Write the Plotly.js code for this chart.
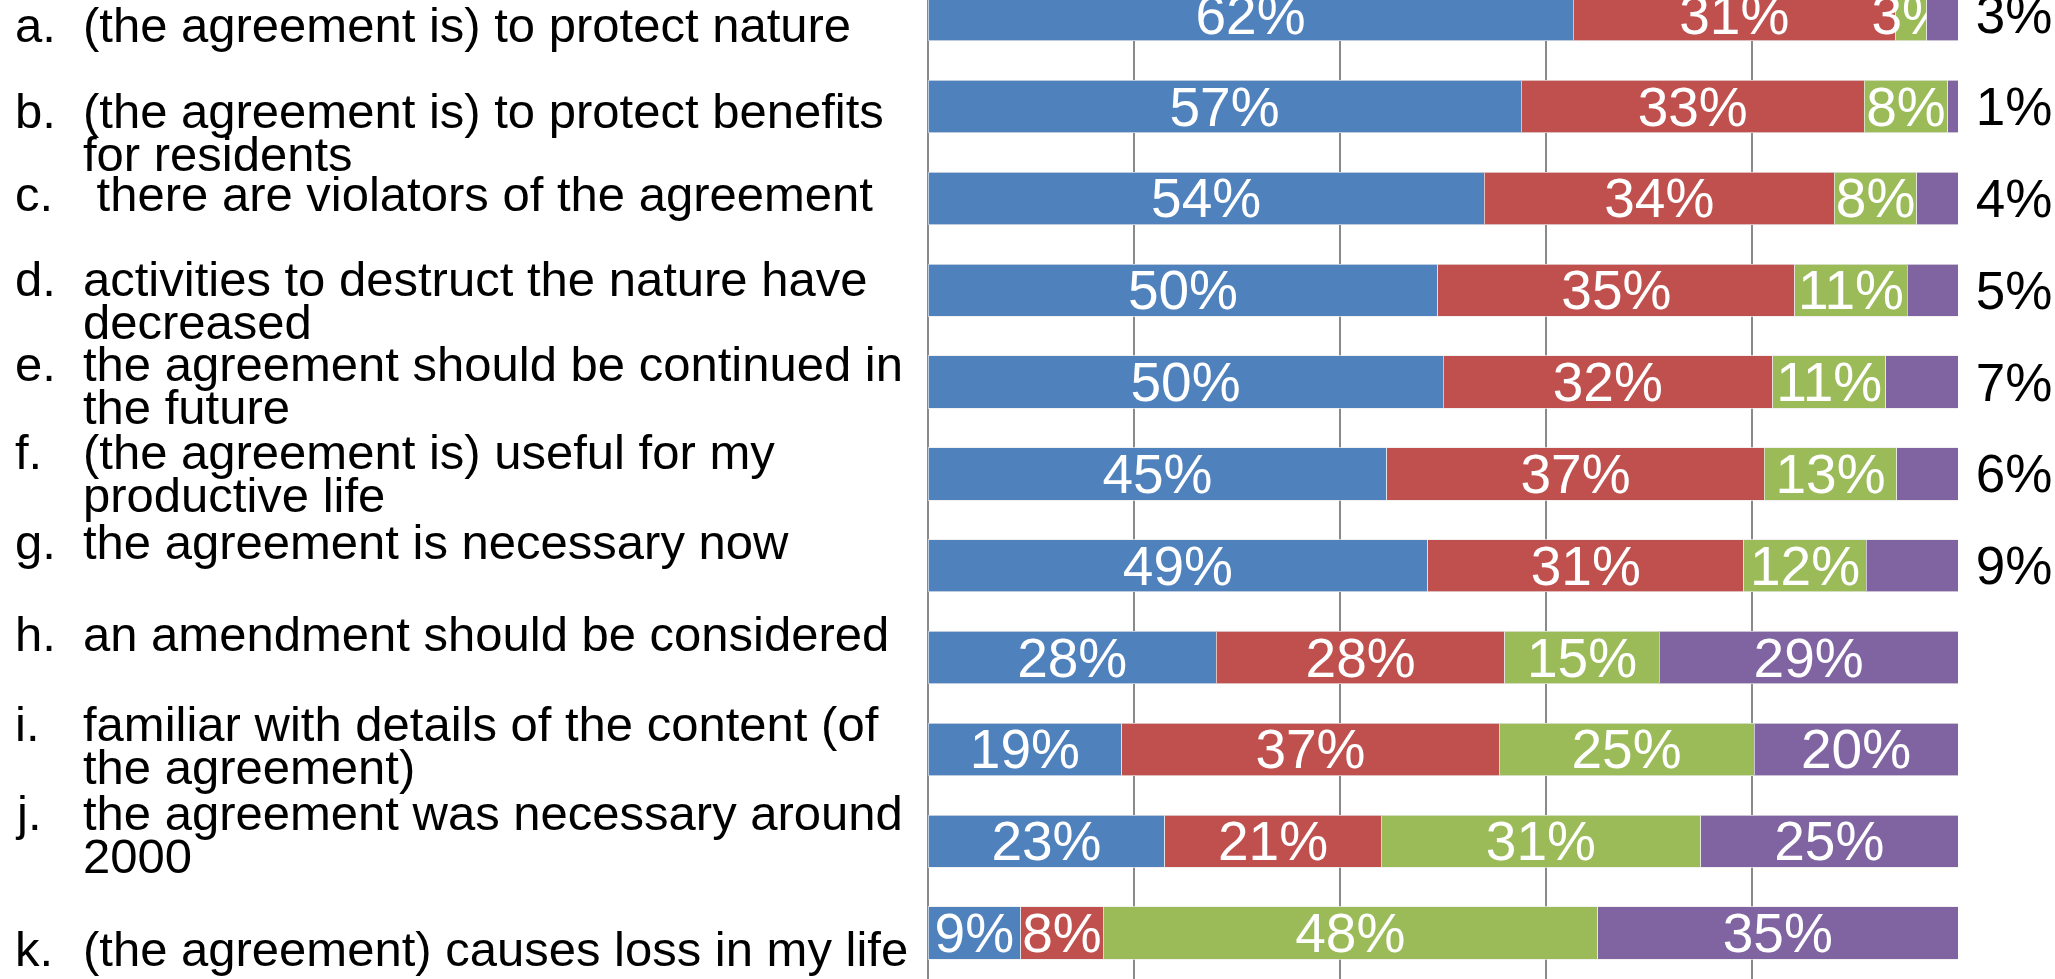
<!DOCTYPE html>
<html>
<head>
<meta charset="utf-8">
<script src="https://cdn.plot.ly/plotly-3.0.1.min.js"></script>
<style>
  html, body { margin: 0; padding: 0; background: #fff; }
  #graph { width: 2055px; height: 979px; }
</style>
</head>
<body>
<div id="graph"></div>
<script>
// statements, top to bottom
const categories = ['a', 'b', 'c', 'd', 'e', 'f', 'g', 'h', 'i', 'j', 'k'];
const letters = ['a.', 'b.', 'c.', 'd.', 'e.', 'f.', 'g.', 'h.', 'i.', 'j.', 'k.'];
const statements = [
  ['(the agreement is) to protect nature'],
  ['(the agreement is) to protect benefits', 'for residents'],
  ['\u00a0there are violators of the agreement'],
  ['activities to destruct the nature have', 'decreased'],
  ['the agreement should be continued in', 'the future'],
  ['(the agreement is) useful for my', 'productive life'],
  ['the agreement is necessary now'],
  ['an amendment should be considered'],
  ['familiar with details of the content (of', 'the agreement)'],
  ['the agreement was necessary around', '2000'],
  ['(the agreement) causes loss in my life']
];

// answer shares (%), one array per answer
const seriesNames = ['Agree', 'Somewhat agree', 'Somewhat disagree', 'Disagree'];
const agree = [62, 57, 54, 50, 50, 45, 49, 28, 19, 23, 9];
const somewhatAgree = [31, 33, 34, 35, 32, 37, 31, 28, 37, 21, 8];
const somewhatDisagree = [3, 8, 8, 11, 11, 13, 12, 15, 25, 31, 48];
const disagree = [3, 1, 4, 5, 7, 6, 9, 29, 20, 25, 35];

const colors = ['#4F81BD', '#C0504D', '#9BBB59', '#8064A2'];
const fontFamily = '"Liberation Sans", Arial, sans-serif';

function makeTrace(values, i) {
  const last = i === 3;
  // small shares of the last answer are labelled beside the bar
  const outside = values.map(v => last && v < 10);
  return {
    type: 'bar',
    orientation: 'h',
    name: seriesNames[i],
    y: categories,
    x: values,
    text: values.map((v, j) => (outside[j] ? '\u00a0' : '') + v + '%'),
    textposition: outside.map(o => o ? 'outside' : 'inside'),
    insidetextanchor: 'middle',
    textangle: 0,
    constraintext: 'none',
    cliponaxis: false,
    insidetextfont: { color: '#ffffff', size: 55, family: fontFamily },
    outsidetextfont: { color: '#000000', size: 53, family: fontFamily },
    marker: { color: colors[i], line: { width: 1, color: 'rgba(235,235,235,0.7)' } },
    hoverinfo: 'none'
  };
}

const data = [agree, somewhatAgree, somewhatDisagree, disagree].map(makeTrace);

// hand-set text box placement (label lines drift against bars in the source)
const firstLineShift = [-10, -4, 4, 11, 18, 22, 24, 24, 25, 28, -16];
const lineGap = 43;
const plotLeft = 928;

const annotations = [];
categories.forEach((cat, i) => {
  annotations.push({
    xref: 'paper', yref: 'y', x: 0, y: i,
    xanchor: 'left', yanchor: 'middle',
    xshift: 13 - plotLeft, yshift: firstLineShift[i],
    text: letters[i], showarrow: false,
    font: { size: 49, color: '#000', family: fontFamily }
  });
  statements[i].forEach((line, j) => {
    annotations.push({
      xref: 'paper', yref: 'y', x: 0, y: i,
      xanchor: 'left', yanchor: 'middle',
      xshift: 81 - plotLeft, yshift: firstLineShift[i] - j * lineGap,
      text: line, showarrow: false,
      font: { size: 49, color: '#000', family: fontFamily }
    });
  });
});

const layout = {
  width: 2055,
  height: 979,
  margin: { l: plotLeft, r: 97, t: 0, b: 0, pad: 0 },
  paper_bgcolor: '#ffffff',
  plot_bgcolor: '#ffffff',
  font: { family: fontFamily },
  barmode: 'stack',
  barnorm: 'percent',
  bargap: 0.43,
  showlegend: false,
  xaxis: {
    range: [0, 100],
    dtick: 20,
    showgrid: true,
    gridcolor: '#8a8a8a',
    gridwidth: 1.5,
    zeroline: true,
    zerolinecolor: '#8a8a8a',
    zerolinewidth: 1.5,
    showticklabels: false,
    ticks: ''
  },
  yaxis: {
    type: 'category',
    range: [10.5, -0.16],
    showgrid: false,
    zeroline: false,
    showticklabels: false,
    ticks: ''
  },
  annotations: annotations
};

Plotly.newPlot('graph', data, layout, { staticPlot: true });
</script>
</body>
</html>
